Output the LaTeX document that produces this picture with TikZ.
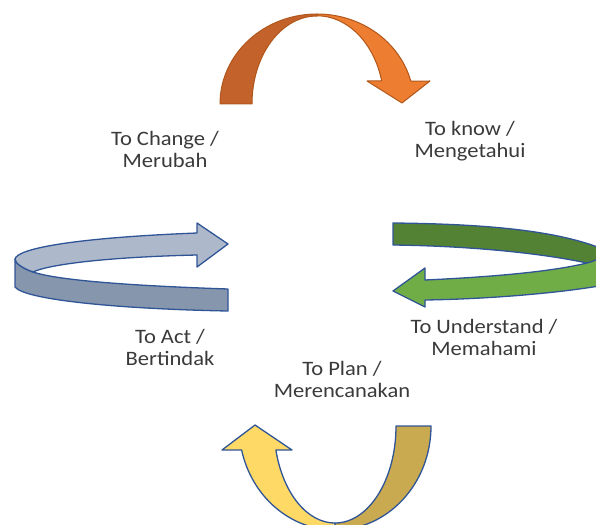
\documentclass[tikz,border=0pt]{standalone}
\usepackage{fontspec}
\setmainfont{Carlito}[FakeStretch=1.1]
\definecolor{orDark}{HTML}{C3622A}
\definecolor{orLight}{HTML}{ED7D31}
\definecolor{orLine}{HTML}{B0571C}
\definecolor{bgLight}{HTML}{ADB9CA}
\definecolor{bgDark}{HTML}{8696AC}
\definecolor{grDark}{HTML}{548235}
\definecolor{grLight}{HTML}{70AD47}
\definecolor{yeDark}{HTML}{C9AA50}
\definecolor{yeLight}{HTML}{FFD966}
\definecolor{blueLine}{HTML}{2F5597}
\definecolor{txt}{HTML}{3A3A3A}
\begin{document}
\begin{tikzpicture}[x=1pt,y=-1pt,
  orshape/.style={draw=orLine,line width=1pt,line join=round},
  blshape/.style={draw=blueLine,line width=1.3pt,line join=round},
  lbl/.style={align=center,inner sep=0pt,text=txt,font=\fontsize{20.5}{22}\selectfont}]
\useasboundingbox (0,0) rectangle (596,524);
\begin{scope}
\clip (0,0) rectangle (596,524);
% top orange arrow
\filldraw[orshape,fill=orDark] (220,104) arc[start angle=180,end angle=270,x radius=97,y radius=90]
  -- (317,16) arc[start angle=270,end angle=180,x radius=65,y radius=88] -- cycle;
\filldraw[orshape,fill=orLight] (317,14) arc[start angle=270,end angle=345.2,x radius=97,y radius=90]
  -- (430,81) -- (402,103) -- (367,81) -- (381.7,81)
  arc[start angle=345,end angle=270,x radius=67,y radius=88] -- cycle;
% left blue-gray arrow
\filldraw[blshape,fill=bgDark] (228,289) .. controls (140,286) and (60,281) .. (33,272)
  .. controls (22,268) and (15,263) .. (15,259) -- (15,287)
  .. controls (25,300) and (120,309) .. (228,311) -- cycle;
\filldraw[blshape,fill=bgLight] (15,259) .. controls (17,249) and (70,238) .. (197,233)
  -- (197,223) -- (228,244) -- (197,267) -- (197,255)
  .. controls (110,257) and (50,264) .. (33,272)
  .. controls (22,268) and (15,263) .. (15,259) -- cycle;
% right green arrow
\filldraw[blshape,fill=grDark] (393,223) .. controls (490,224) and (560,231) .. (605,250)
  -- (605,266) -- (587,263) .. controls (540,253) and (470,246) .. (393,245) -- cycle;
\filldraw[blshape,fill=grLight] (393,291) -- (425,268) -- (425,280)
  .. controls (490,277) and (550,272) .. (587,263)
  .. controls (595,261) and (600,258) .. (605,255) -- (605,285)
  .. controls (560,293) and (490,299) .. (425,300) -- (425,307) -- cycle;
% bottom yellow arrow
\filldraw[blshape,fill=yeDark] (431,426) arc[start angle=0,end angle=90,x radius=96,y radius=104]
  -- (335,523) arc[start angle=90,end angle=0,x radius=61,y radius=97] -- cycle;
\filldraw[blshape,fill=yeLight] (335,530) arc[start angle=90,end angle=166.7,x radius=96,y radius=104]
  -- (222,450) -- (255,425) -- (292,450) -- (275.9,450)
  arc[start angle=165.7,end angle=90,x radius=61,y radius=97] -- cycle;
\end{scope}
% labels
\node[lbl] (change) at (165,149) {To Change /\\Merubah};
\node[lbl] (know) at (470,141.5) {To know /\\Mengetahui};
\node[lbl] (act) at (170,347.5) {To Act /\\Bertindak};
\node[lbl] (understand) at (484,337.5) {To Understand /\\Memahami};
\node[lbl] (plan) at (342,379.5) {To Plan /\\Merencanakan};
\end{tikzpicture}
\end{document}
